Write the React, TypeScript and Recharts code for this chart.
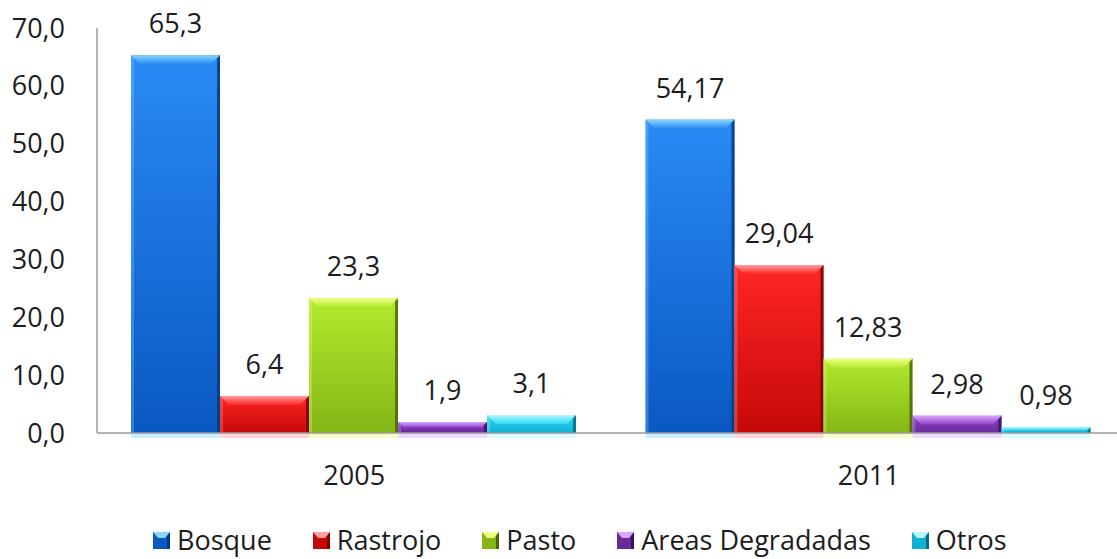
import React from "react";
import { BarChart, Bar, XAxis, YAxis, Legend, LabelList } from "recharts";

const years = ["2005", "2011"];
const bosque = [65.3, 54.17];
const rastrojo = [6.4, 29.04];
const pasto = [23.3, 12.83];
const degradadas = [1.9, 2.98];
const otros = [3.1, 0.98];
const yTicks = [0, 10, 20, 30, 40, 50, 60, 70];

const FONT = "'Open Sans', sans-serif";
const TEXT = "#1c1c1c";

interface Palette {
  id: string;
  name: string;
  light: string;
  top: string;
  bottom: string;
  dark: string;
}

const palettes: Palette[] = [
  { id: "bosque", name: "Bosque", light: "#8ad6ff", top: "#2a8af5", bottom: "#0a58c2", dark: "#063a80" },
  { id: "rastrojo", name: "Rastrojo", light: "#ffa0a0", top: "#ff2626", bottom: "#c60808", dark: "#7a0000" },
  { id: "pasto", name: "Pasto", light: "#f2ff86", top: "#b2ea2e", bottom: "#84b616", dark: "#4a6606" },
  { id: "degradadas", name: "Areas Degradadas", light: "#dca6ff", top: "#8c44ca", bottom: "#682a98", dark: "#3a105e" },
  { id: "otros", name: "Otros", light: "#b4f8ff", top: "#30d8f6", bottom: "#10b0d2", dark: "#086a82" },
];

const data = years.map((y, i) => ({
  year: y,
  bosque: bosque[i],
  rastrojo: rastrojo[i],
  pasto: pasto[i],
  degradadas: degradadas[i],
  otros: otros[i],
}));

const fmt = (v: number) => String(v).replace(".", ",");

const bevelShape = (c: Palette) => (props: any) => {
  const { x, y, width: w, height: h } = props;
  if (h == null || !(w > 0)) return <g />;
  const b = Math.min(9, h / 2);
  return (
    <g>
      <rect x={x} y={y + h} width={w} height={5} fill={c.light} opacity={0.45} />
      <rect x={x} y={y} width={w} height={h} fill={`url(#body-${c.id})`} />
      <rect x={x} y={y} width={3} height={h} fill={c.light} opacity={0.3} />
      <rect x={x + w - 3} y={y} width={3} height={h} fill={c.dark} opacity={0.85} />
      <polygon
        points={`${x},${y} ${x + w},${y} ${x + w - b},${y + b} ${x + b},${y + b}`}
        fill={`url(#bevel-${c.id})`}
      />
    </g>
  );
};

const LegendIcon = ({ c }: { c: Palette }) => (
  <svg width={17} height={17} style={{ display: "block" }}>
    <rect x={0} y={0} width={17} height={17} fill={c.bottom} />
    <rect x={14} y={0} width={3} height={17} fill={c.dark} />
    <polygon points="0,0 17,0 12,6 5,6" fill={c.light} />
  </svg>
);

const CustomLegend = () => (
  <div
    style={{
      display: "flex",
      alignItems: "center",
      height: 40,
      paddingLeft: 153,
      fontFamily: FONT,
      fontSize: 27,
      color: TEXT,
      whiteSpace: "nowrap",
    }}
  >
    {palettes.map((c) => (
      <div key={c.id} style={{ display: "flex", alignItems: "center", marginRight: 41 }}>
        <LegendIcon c={c} />
        <span style={{ marginLeft: 7, lineHeight: "40px" }}>{c.name}</span>
      </div>
    ))}
  </div>
);

export default function App() {
  return (
    <div
      style={{
        position: "absolute",
        left: 0,
        top: 0,
        width: 1117,
        height: 559,
        overflow: "hidden",
        background: "#ffffff",
      }}
    >
      <BarChart
        width={1130}
        height={559}
        data={data}
        margin={{ top: 28, right: 4, left: 0, bottom: 26 }}
        barCategoryGap={34}
        barGap={0}
      >
        <defs>
          {palettes.map((c) => (
            <React.Fragment key={c.id}>
              <linearGradient id={`body-${c.id}`} x1="0" y1="0" x2="0" y2="1">
                <stop offset="0%" stopColor={c.top} />
                <stop offset="100%" stopColor={c.bottom} />
              </linearGradient>
              <linearGradient id={`bevel-${c.id}`} x1="0" y1="0" x2="0" y2="1">
                <stop offset="0%" stopColor={c.light} />
                <stop offset="100%" stopColor={c.top} />
              </linearGradient>
            </React.Fragment>
          ))}
        </defs>
        <XAxis
          dataKey="year"
          height={60}
          axisLine={{ stroke: "#9a9a9a", strokeWidth: 1.5 }}
          tickLine={false}
          tickSize={0}
          tickMargin={33}
          tick={{ fontSize: 27, fill: TEXT, fontFamily: FONT }}
        />
        <YAxis
          width={97}
          domain={[0, 70]}
          ticks={yTicks}
          tickFormatter={(v: number) => v.toFixed(1).replace(".", ",")}
          axisLine={{ stroke: "#9a9a9a", strokeWidth: 1.5 }}
          tickLine={false}
          tickSize={0}
          tickMargin={32}
          tick={{ fontSize: 27, fill: TEXT, fontFamily: FONT }}
        />
        <Legend
          verticalAlign="bottom"
          content={<CustomLegend />}
          wrapperStyle={{ left: 0, top: 520, width: 1117, height: 40, bottom: "auto" }}
        />
        {palettes.map((c) => (
          <Bar
            key={c.id}
            dataKey={c.id}
            name={c.name}
            fill={c.top}
            shape={bevelShape(c)}
            isAnimationActive={false}
          >
            <LabelList
              dataKey={c.id}
              position="top"
              offset={22}
              formatter={(v: any) => fmt(Number(v))}
              style={{ fontSize: 27, fill: TEXT, fontFamily: FONT }}
            />
          </Bar>
        ))}
      </BarChart>
    </div>
  );
}
